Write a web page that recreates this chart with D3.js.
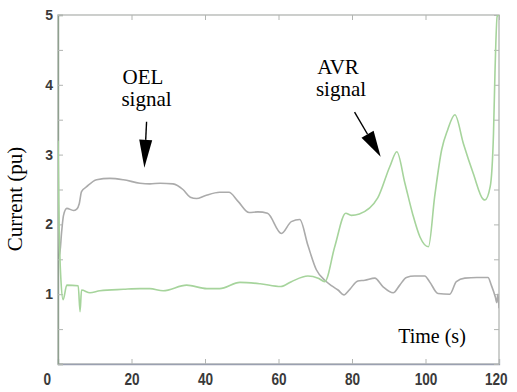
<!DOCTYPE html>
<html>
<head>
<meta charset="utf-8">
<script src="https://cdn.jsdelivr.net/npm/d3@7"></script>
<style>
  body { margin: 0; background: #fff; }
  .tick-x text { font-family: "Liberation Sans", Arial, sans-serif; font-weight: bold; fill: #3a3a3a; }
  .tick-y text { font-family: "Liberation Sans", Arial, sans-serif; font-weight: bold; fill: #3a3a3a; }
</style>
</head>
<body>
<div id="chart"></div>
<script>
'use strict';

// time axis (s) and current axis (pu)
const xTicks = [0, 20, 40, 60, 80, 100, 120];
const yTicks = [0, 0.5, 1, 1.5, 2, 2.5, 3, 3.5, 4, 4.5, 5];

// OEL signal (grey)
const oelTime = [0, 0.4, 1.0, 1.5, 2.4, 4.2, 5.1, 5.8, 6.4, 7.8, 10.5, 14.1, 17.8, 22.3, 25, 27.8, 31.3, 34, 36, 37.7,
    40, 44, 46.5, 49, 52, 54.4, 57, 60.8, 63.5, 65.8, 68, 70.3, 72.6, 74.5, 76.2, 77.8, 79.4, 81.6, 83.5, 86.2,
    88.4, 91.2, 93, 94.8, 97, 99.8, 101.1, 103.4, 106.6, 108.4, 110.7, 114, 117, 117.9, 119, 119.4, 119.7, 120];
const oelValue = [2.5, 1.55, 1.9, 2.13, 2.23, 2.2, 2.22, 2.3, 2.47, 2.54, 2.64, 2.66, 2.64, 2.59, 2.58, 2.59, 2.58, 2.5, 2.39, 2.37,
    2.41, 2.46, 2.46, 2.33, 2.17, 2.18, 2.16, 1.87, 2.04, 2.07, 1.7, 1.35, 1.2, 1.12, 1.06, 0.99, 1.07, 1.19, 1.2, 1.23,
    1.11, 1.02, 1.13, 1.24, 1.26, 1.26, 1.18, 1.01, 1.0, 1.18, 1.23, 1.24, 1.24, 1.13, 0.96, 0.88, 1.0, 0.8];

// AVR signal (green)
const avrTime = [0, 0.3, 0.8, 1.4, 2.4, 5.5, 6.0, 6.4, 8.7, 11.4, 17.8, 22.3, 25, 28.6, 35, 40.5, 44, 49.5, 55, 60.6,
    63.5, 68, 70.8, 72.6, 75.3, 78.3, 79.8, 82, 87, 90.3, 92.2, 94.4, 96.5, 98.5, 100.8, 102.5, 104.4, 106, 108, 110.3,
    113, 115.7, 116.2, 117.6, 118.5, 118.9, 119.5, 120];
const avrValue = [3.2, 2.0, 1.2, 0.92, 1.13, 1.12, 0.75, 1.06, 1.02, 1.05, 1.07, 1.08, 1.08, 1.05, 1.13, 1.08, 1.08, 1.17, 1.15, 1.11,
    1.18, 1.26, 1.23, 1.18, 1.68, 2.16, 2.13, 2.15, 2.38, 2.83, 3.04, 2.59, 2.15, 1.82, 1.68, 2.4, 3.07, 3.35, 3.57, 3.16,
    2.73, 2.36, 2.35, 2.54, 3.3, 4.16, 4.98, 5.0];

const W = 517, H = 392;
const margin = {top: 15, right: 18, bottom: 28, left: 58};
const width = W - margin.left - margin.right;
const height = H - margin.top - margin.bottom;
const serif = '"Liberation Serif", "Times New Roman", Times, serif';

const svg = d3.select("#chart").append("svg")
    .attr("width", W)
    .attr("height", H);

const g = svg.append("g")
    .attr("transform", "translate(" + margin.left + "," + margin.top + ")");

const x = d3.scaleLinear().domain([0, 120]).range([0, width]);
const y = d3.scaleLinear().domain([0, 5]).range([height, 0]);

g.append("clipPath").attr("id", "plotclip")
    .append("rect").attr("width", width).attr("height", height);

// frame
g.append("rect")
    .attr("width", width)
    .attr("height", height)
    .attr("fill", "none")
    .attr("stroke", "#b2b5b2")
    .attr("stroke-width", 1.3);

// bottom axis, ticks inside
const xAxis = g.append("g")
    .attr("class", "tick-x")
    .attr("transform", "translate(0," + height + ")")
    .call(d3.axisBottom(x).tickValues(xTicks).tickSize(-5).tickPadding(0).tickFormat(d3.format("d")));
xAxis.select(".domain").attr("stroke", "#9aa0b0").attr("stroke-width", 1.3);
xAxis.selectAll(".tick line").attr("stroke", "#b2b5b2");
xAxis.selectAll(".tick text")
    .attr("font-size", 17)
    .attr("y", 21)
    .attr("dy", 0)
    .attr("transform", "scale(0.8,1)")
    .attr("x", d => d === 0 ? -14 : (d === 120 ? -4 : 0));

// top axis ticks
const xTop = g.append("g")
    .call(d3.axisTop(x).tickValues(xTicks).tickSize(-5).tickFormat(""));
xTop.select(".domain").remove();
xTop.selectAll(".tick line").attr("stroke", "#b2b5b2");

// left axis
const yAxis = g.append("g")
    .attr("class", "tick-y")
    .call(d3.axisLeft(y).tickValues(yTicks).tickSize(-5).tickPadding(5)
        .tickFormat(d => (d % 1 === 0 && d > 0) ? d : ""));
yAxis.select(".domain").attr("stroke", "#8fa08f").attr("stroke-width", 1.4);
yAxis.selectAll(".tick line").attr("stroke", "#b2b5b2");
yAxis.selectAll(".tick text").attr("font-size", 14);

// right axis ticks
const yRight = g.append("g")
    .attr("transform", "translate(" + width + ",0)")
    .call(d3.axisRight(y).tickValues(yTicks).tickSize(-5).tickFormat(""));
yRight.select(".domain").remove();
yRight.selectAll(".tick line").attr("stroke", "#b2b5b2");

const line = d3.line()
    .x(d => x(d[0]))
    .y(d => y(d[1]))
    .curve(d3.curveMonotoneX);

const plot = g.append("g").attr("clip-path", "url(#plotclip)");

plot.append("path")
    .datum(oelTime.map((t, i) => [t, oelValue[i]]))
    .attr("fill", "none")
    .attr("stroke", "#ababab")
    .attr("stroke-width", 1.6)
    .attr("d", line);

plot.append("path")
    .datum(avrTime.map((t, i) => [t, avrValue[i]]))
    .attr("fill", "none")
    .attr("stroke", "#a6d49c")
    .attr("stroke-width", 1.6)
    .attr("d", line);

// arrows, drawn in data coordinates
function arrow(t0, v0, t1, v1, headLen, halfW) {
    const x0 = x(t0), y0 = y(v0), x1 = x(t1), y1 = y(v1);
    const len = Math.hypot(x1 - x0, y1 - y0);
    const ux = (x1 - x0) / len, uy = (y1 - y0) / len;
    const bx = x1 - ux * headLen, by = y1 - uy * headLen;
    g.append("line")
        .attr("x1", x0).attr("y1", y0).attr("x2", bx).attr("y2", by)
        .attr("stroke", "#000").attr("stroke-width", 1.4);
    g.append("polygon")
        .attr("points", [[x1, y1], [bx - uy * halfW, by + ux * halfW], [bx + uy * halfW, by - ux * halfW]]
            .map(p => p.join(",")).join(" "))
        .attr("fill", "#000");
}
arrow(24.1, 3.47, 23.5, 2.81, 28, 6.5);
arrow(80.7, 3.61, 87.8, 2.97, 26, 7);

// annotations
function note(tx, ty, size, str, transform) {
    const t = svg.append("text")
        .attr("font-family", serif)
        .attr("font-size", size)
        .attr("fill", "#000")
        .attr("text-anchor", "middle")
        .text(str);
    if (transform) t.attr("transform", transform);
    else t.attr("x", tx).attr("y", ty);
}
note(143, 84, 21, "OEL");
note(146.5, 106, 21, "signal");
note(338, 74, 21, "AVR");
note(341, 96, 21, "signal");
note(432, 343, 20, "Time (s)");
note(0, 0, 21, "Current (pu)", "translate(22,199) rotate(-90)");
</script>
</body>
</html>
